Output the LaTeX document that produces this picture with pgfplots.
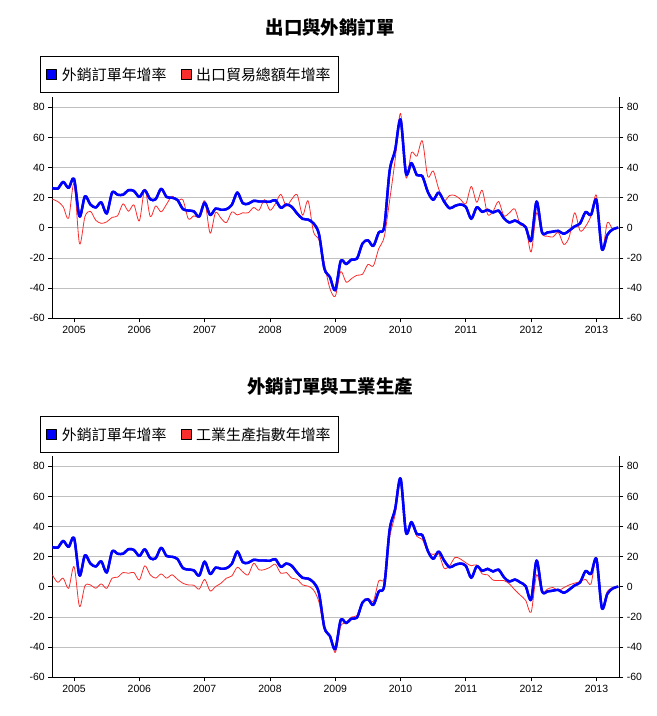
\documentclass[border=0pt]{standalone}
\usepackage{pgfplots}
\pgfplotsset{compat=1.18}
\usepackage{pgfplotstable}
\usepackage{fontspec}
\setmainfont{Liberation Sans}
\newfontfamily\cjk{Noto Sans CJK TC}
\definecolor{myblue}{RGB}{0,0,255}
\definecolor{myred}{RGB}{250,45,45}
\definecolor{gridgray}{RGB}{192,192,192}

\pgfplotstableread{
m blue exp ind
-4 26.5 19 8
-3 26 17.5 3
-2 30.5 14 5.8
-1 26.5 6.4 -1
0 32.5 29.5 13.5
1 7.5 -10.5 -13
2 21 7.5 0.7
3 15.5 11 1.3
4 13.5 5 -0.9
5 17 3 2
6 9.5 4 -1
7 23.5 7 5.8
8 22 8 6.4
9 22 16 9.5
10 25 11 9
11 24.5 15.3 9.5
12 20.5 4.6 4.6
13 25 25.7 14
14 19 7.5 8
15 19 14.6 5.8
16 26 10.6 8.6
17 20.5 15.7 5.8
18 20 21 8
19 18.5 18 5
20 12.5 18.6 2.4
21 11.5 6 1.3
22 11 8 1.1
23 7.5 7.5 -1.5
24 16.8 18 5
25 8.5 -3.5 -2.7
26 12.8 10.2 0.2
27 12 6.4 2.4
28 12.4 3.5 5.8
29 15.3 10.6 7.3
30 23.5 8.6 13
31 16.4 10 10
32 16 10 8
33 18 13.5 15.7
34 17.5 11.7 11.3
35 17.5 18.8 11.5
36 17.3 11.7 13
37 18.4 16 15
38 13.3 22.3 9
39 15.5 14.4 9.5
40 14 19 5.8
41 9.5 22 5
42 6 8.4 1.3
43 5.5 18 0.5
44 3 -2.7 -2
45 -4 -8 -10
46 -27 -24 -28
47 -32.5 -40 -32
48 -41.4 -45.4 -43.5
49 -22 -29 -26
50 -24 -36 -24
51 -21 -33.6 -20
52 -20.4 -31.4 -19
53 -10.4 -30.8 -11
54 -8.2 -24.3 -7.5
55 -12 -25.2 -9.5
56 -3 -13.7 4
57 0.7 -6 5.5
58 38 18.4 33
59 51.5 45 48
60 72 76 70
61 36 33.4 36.5
62 43 50 42.5
63 35 47.6 33.5
64 34.3 57.7 31.5
65 24 34 23.5
66 18.6 37.8 21.5
67 23.5 26 22
68 17.5 18 12.4
69 13 21.5 14
70 14.6 21.5 19.5
71 15.5 19 18.5
72 14 16 16
73 6 27.5 14
74 13.7 17 14.6
75 10.6 25 8.6
76 12 9 8
77 10.2 11 4.5
78 11.5 17.5 4.2
79 6.4 8 4.2
80 3.5 10 2
81 4.9 12.5 -2
82 3 2 -5.5
83 0.4 1 -9
84 -8.4 -16 -16.8
85 17.5 10 8
86 -3 -4 -3.8
87 -3 -5.5 -1.5
88 -2.5 -6 -0.4
89 -2 -3 -2.4
90 -4 -11 -0.5
91 -1.8 -6 1.3
92 1 10 2.5
93 3 -2 3.5
94 10.5 1 5
95 8.6 8 2
96 18.5 21.5 19.5
97 -14 -15 -13
98 -4.6 3.5 -3
99 -1 -1 -0.5
100 0.2 0 0
}\data

\pgfplotsset{
  base/.style={
    scale only axis, width=567bp, height=221.1bp,
    xmin=-4, xmax=100.2, ymin=-60, ymax=86.7,
    ytick={-60,-40,-20,0,20,40,60,80},
    yticklabels={-60,-40,-20,0,20,40,60,80},
    tick align=outside, major tick length=4bp,
    tick style={black, line width=0.8bp},
    axis line style={black, line width=1bp},
    ticklabel style={font=\fontsize{10.5}{12}\selectfont},
    anchor=south west,
  },
  panel/.style={
    base,
    axis x line*=bottom, axis y line*=left,
    xtick={0,12,24,36,48,60,72,84,96},
    xticklabels={2005,2006,2007,2008,2009,2010,2011,2012,2013},
    ymajorgrids, grid style={gridgray, line width=0.8bp},
    legend columns=2,
    legend cell align=left,
    legend style={anchor=north west, draw=black, line width=0.8bp,
      font=\cjk\fontsize{15}{17}\selectfont,
      inner xsep=6bp, inner ysep=9bp,
      /tikz/every odd column/.append style={column sep=3bp},
      /tikz/every even column/.append style={column sep=12bp}},
    title style={anchor=center, font=\cjk\bfseries\fontsize{18.5}{20}\selectfont},
  },
  rpanel/.style={
    base,
    axis y line*=right, axis x line=none,
    yticklabel pos=right,
  },
  bsq/.style={legend image code/.code={\draw[draw=black,line width=0.6bp,fill=myblue] (0bp,-5bp) rectangle (10bp,5bp);}},
  rsq/.style={legend image code/.code={\draw[draw=black,line width=0.6bp,fill=myred] (0bp,-5bp) rectangle (10bp,5bp);}},
}

\begin{document}
\begin{tikzpicture}
\path[use as bounding box] (0,0) rectangle (657bp,-716bp);

% top panel
\begin{axis}[panel, at={(52.3bp,-318.3bp)},
  title={出口與外銷訂單}, title style={at={(0.49,1.288)}},
  legend style={at={(-0.0217,1.186)}}]
\addplot[myblue, line width=2.4bp, smooth, tension=0.5, line join=round, bsq] table[x=m,y=blue]{\data};
\addlegendentry{外銷訂單年增率}
\addplot[myred, line width=0.8bp, smooth, tension=0.5, line join=round, rsq] table[x=m,y=exp]{\data};
\addlegendentry{出口貿易總額年增率}
\addplot[myblue, line width=2.4bp, smooth, tension=0.5, line join=round, forget plot] table[x=m,y=blue]{\data};
\end{axis}
\begin{axis}[rpanel, at={(52.3bp,-318.3bp)}]
\end{axis}

% bottom panel
\begin{axis}[panel, at={(52.3bp,-677.3bp)},
  title={外銷訂單與工業生產}, title style={at={(0.49,1.29)}},
  legend style={at={(-0.0217,1.181)}}]
\addplot[myblue, line width=2.4bp, smooth, tension=0.5, line join=round, bsq] table[x=m,y=blue]{\data};
\addlegendentry{外銷訂單年增率}
\addplot[myred, line width=0.8bp, smooth, tension=0.5, line join=round, rsq] table[x=m,y=ind]{\data};
\addlegendentry{工業生產指數年增率}
\addplot[myblue, line width=2.4bp, smooth, tension=0.5, line join=round, forget plot] table[x=m,y=blue]{\data};
\end{axis}
\begin{axis}[rpanel, at={(52.3bp,-677.3bp)}]
\end{axis}
\end{tikzpicture}
\end{document}
